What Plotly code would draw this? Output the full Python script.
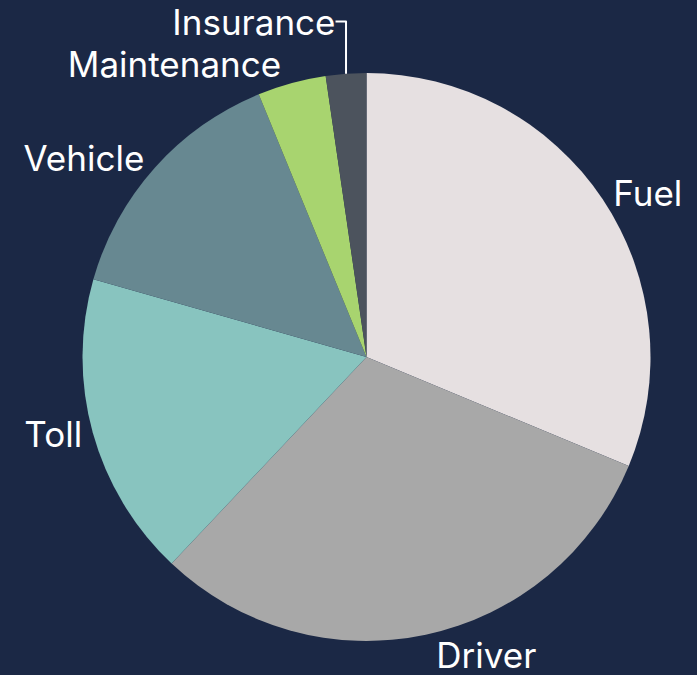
import plotly.graph_objects as go

labels = ["Fuel", "Driver", "Toll", "Vehicle", "Maintenance", "Insurance"]
values = [31.3, 30.8, 17.4, 14.4, 3.9, 2.3]
colors = ["#e6e0e1", "#a8a8a8", "#88c4bf", "#678891", "#a8d46f", "#4c535d"]

fig = go.Figure(go.Pie(
    labels=labels, values=values, sort=False, direction="clockwise", rotation=0,
    marker=dict(colors=colors, line=dict(width=0)),
    textinfo="label", textposition="outside",
    outsidetextfont=dict(color="white", size=35, family="Inter"),
    hoverinfo="label+percent",
    showlegend=False,
))
fig.update_layout(
    width=707, height=685,
    paper_bgcolor="#1b2845", plot_bgcolor="#1b2845",
    margin=dict(l=0, r=0, t=0, b=0),
)
fig.write_html(
    "out.html", config={"displayModeBar": False},
    post_script=(
        "document.body.style.margin='0';"
        "document.body.style.overflow='hidden';"
        "document.body.style.background='#1b2845';"
        "var d=document.querySelector('.plotly-graph-div');"
        "d.style.marginTop='-4px';d.style.marginLeft='-1px';"
    ),
)
